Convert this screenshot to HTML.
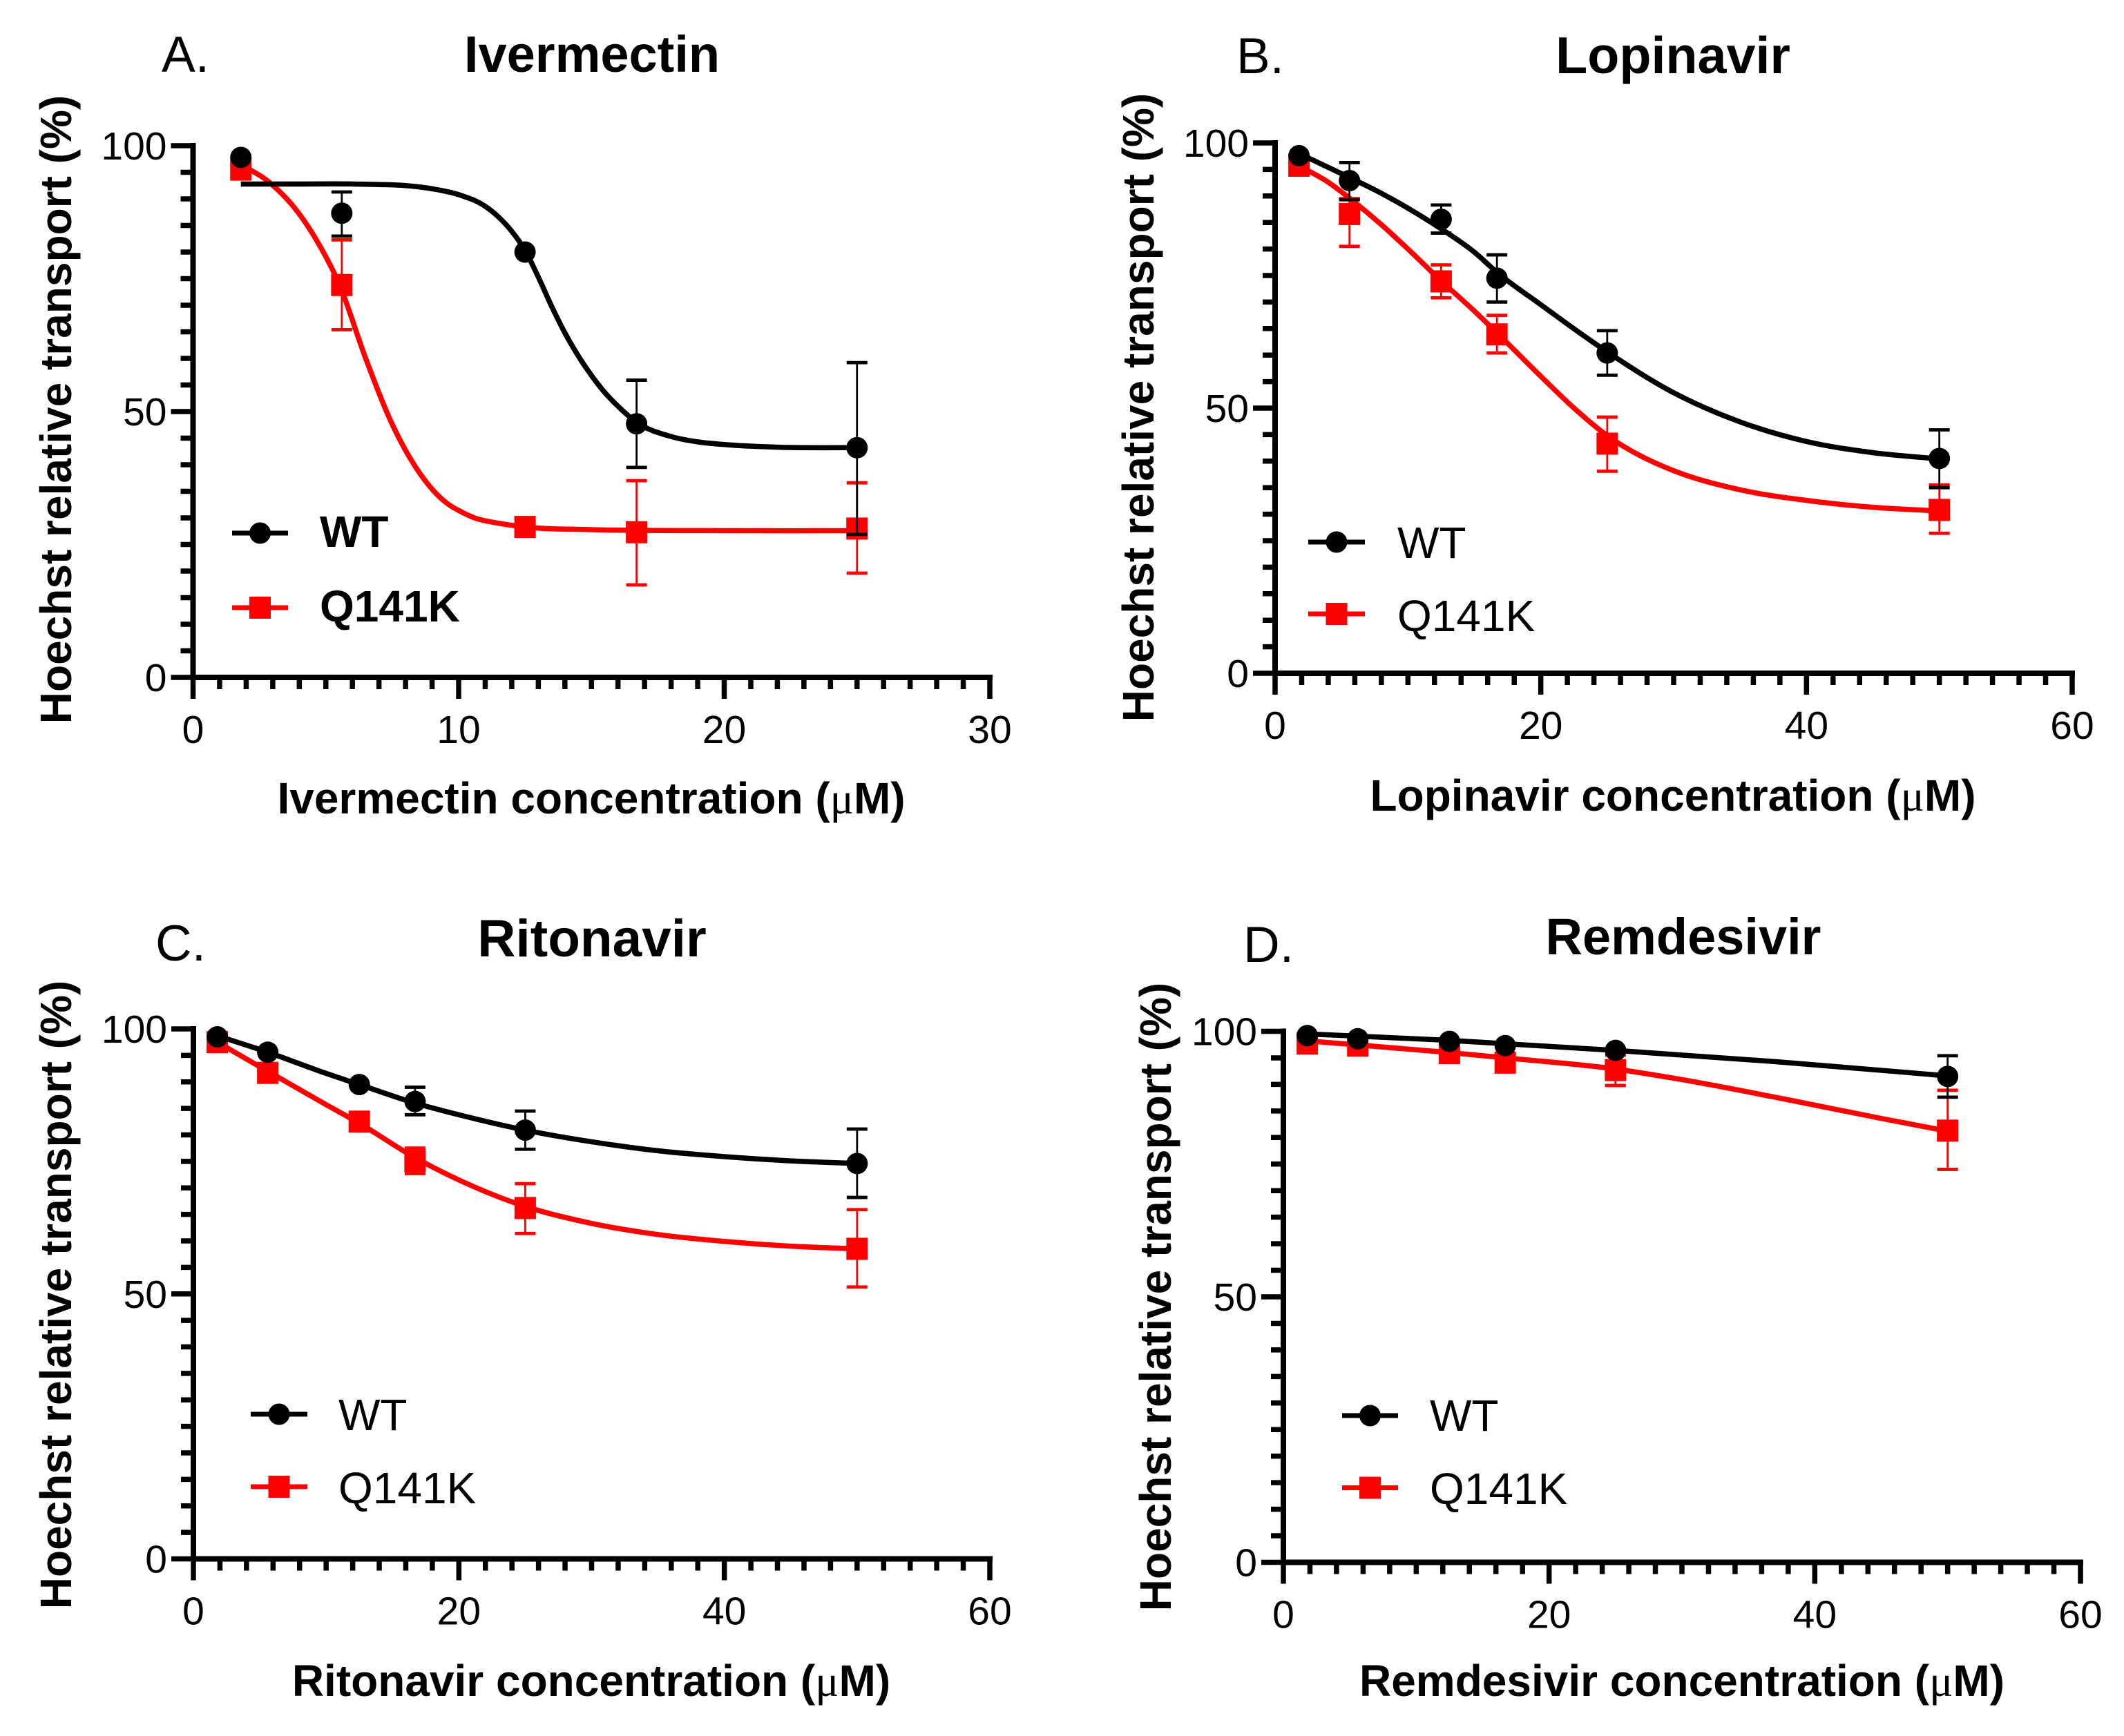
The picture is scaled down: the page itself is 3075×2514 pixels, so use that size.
<!DOCTYPE html>
<html lang="en">
<head>
<meta charset="utf-8">
<title>Hoechst relative transport dose-response panels</title>
<style>
html,body{margin:0;padding:0;background:#fff;}
body{width:3075px;height:2514px;overflow:hidden;}
svg{display:block;}
text{font-family:"Liberation Sans",Arial,sans-serif;fill:#000;}
.panel-title{font-size:74px;font-weight:700;text-anchor:middle;}
.panel-letter{font-size:73px;}
.axis-title{font-size:64px;font-weight:700;text-anchor:middle;}
.mu{font-family:"Liberation Serif",serif;font-weight:400;}
.tick{font-size:57px;}
.legend-text{font-size:64px;}
.legend-bold{font-weight:700;}
</style>
</head>
<body>
<svg id="figure" xmlns="http://www.w3.org/2000/svg" width="3075" height="2514" viewBox="0 0 3075 2514">
  <rect width="3075" height="2514" fill="#fff"/>

  <g id="panel-a">
    <text class="panel-letter" x="234" y="104">A.</text>
    <text class="panel-title" x="857" y="104">Ivermectin</text>
    <text class="axis-title" transform="translate(103,593) rotate(-90)">Hoechst relative transport (%)</text>
    <text class="axis-title" x="856" y="1178">Ivermectin concentration (<tspan class="mu">μ</tspan>M)</text>
    <text class="legend-text legend-bold" x="463" y="792">WT</text>
    <text class="legend-text legend-bold" x="463" y="900">Q141K</text>
  </g>

  <g id="panel-b">
    <text class="panel-letter" x="1790" y="106">B.</text>
    <text class="panel-title" style="font-size:75.5px" x="2422" y="106">Lopinavir</text>
    <text class="axis-title" transform="translate(1670,590) rotate(-90)">Hoechst relative transport (%)</text>
    <text class="axis-title" x="2422" y="1174">Lopinavir concentration (<tspan class="mu">μ</tspan>M)</text>
    <text class="legend-text" x="2023" y="808">WT</text>
    <text class="legend-text" x="2023" y="914">Q141K</text>
  </g>

  <g id="panel-c">
    <text class="panel-letter" x="225" y="1391">C.</text>
    <text class="panel-title" style="font-size:76.5px" x="857" y="1385">Ritonavir</text>
    <text class="axis-title" transform="translate(103,1875) rotate(-90)">Hoechst relative transport (%)</text>
    <text class="axis-title" x="856" y="2456">Ritonavir concentration (<tspan class="mu">μ</tspan>M)</text>
    <text class="legend-text" x="490" y="2071">WT</text>
    <text class="legend-text" x="490" y="2177">Q141K</text>
  </g>

  <g id="panel-d">
    <text class="panel-letter" x="1800" y="1393">D.</text>
    <text class="panel-title" x="2437" y="1382">Remdesivir</text>
    <text class="axis-title" transform="translate(1695,1878) rotate(-90)">Hoechst relative transport (%)</text>
    <text class="axis-title" x="2435" y="2456">Remdesivir concentration (<tspan class="mu">μ</tspan>M)</text>
    <text class="legend-text" x="2070" y="2072">WT</text>
    <text class="legend-text" x="2070" y="2178">Q141K</text>
  </g>
</svg>

<script>
// ---------- Panel A: Ivermectin ----------
const concA = [1.8, 5.6, 12.5, 16.7, 25];
const wtA = [97.8, 87.3, 80, 47.7, 43.2];
const wtHighA = [null, 91.3, null, 55.9, 59.2];
const wtLowA = [null, 83, null, 39.5, 26.9];
const qA = [95.5, 73.8, 28.3, 27.3, 28];
const qHighA = [null, 82.3, null, 37, 36.6];
const qLowA = [null, 65.4, null, 17.4, 19.6];
const wtFitXA = [1.8, 4, 6, 7, 8, 9, 10, 11, 11.5, 12, 12.5, 13, 13.5, 14, 14.5, 15, 15.5, 16, 16.7, 18, 19, 20, 22, 25];
const wtFitYA = [92.8, 92.8, 92.8, 92.7, 92.5, 91.9, 90.8, 88.6, 86.6, 83.9, 80.3, 75.3, 69.8, 64.8, 60.5, 56.8, 53.6, 51, 48, 45.3, 44.3, 43.8, 43.3, 43.2];
const qFitXA = [1.8, 2.9, 3.95, 4.7, 5.5, 6.5, 7.5, 8.55, 9.6, 10, 10.6, 11.5, 12.5, 15, 20, 25];
const qFitYA = [96.5, 93, 87.5, 81.8, 74, 60, 47.6, 38.3, 32.6, 31.4, 30, 29, 28.3, 27.8, 27.6, 27.6];
const xTicksA = [0, 10, 20, 30];

// ---------- Panel B: Lopinavir ----------
const concB = [1.8, 5.6, 12.5, 16.7, 25, 50];
const wtB = [97.6, 92.9, 85.6, 74.5, 60.4, 40.5];
const wtHighB = [null, 96.3, 88.3, 78.9, 64.6, 45.9];
const wtLowB = [null, 89.3, 83, 70, 56.2, 35];
const qB = [95.7, 86.6, 73.9, 63.9, 43.3, 30.8];
const qHighB = [null, 89.5, 77, 67.5, 48.3, 35.5];
const qLowB = [null, 80.5, 70.8, 60.4, 38.1, 26.4];
const wtFitXB = [1.8, 4, 6, 8, 10, 12.5, 15, 16.7, 20, 25, 30, 35, 40, 45, 50];
const wtFitYB = [98, 95.4, 93, 90.5, 87.7, 83.8, 79.4, 75.6, 69.5, 60.6, 52.9, 47.4, 43.7, 41.6, 40.4];
const qFitXB = [1.8, 4, 6, 8, 10, 12.5, 15, 16.7, 20, 22.5, 25, 27.5, 30, 35, 40, 45, 50];
const qFitYB = [95.7, 92.6, 88.8, 84.6, 80, 74, 68.3, 64.2, 56, 50, 44.8, 41, 38.2, 34.6, 32.6, 31.3, 30.6];
const xTicksB = [0, 20, 40, 60];

// ---------- Panel C: Ritonavir ----------
const concC = [1.8, 5.6, 12.5, 16.7, 25, 50];
const wtC = [98.5, 95.6, 89.5, 86.3, 80.9, 74.6];
const wtHighC = [null, null, null, 89, 84.5, 81.1];
const wtLowC = [null, null, null, 83.8, 77.3, 68.2];
const qC = [97.5, 91.7, 82.5, 75.1, 66.2, 58.5];
const qHighC = [null, null, null, 77.5, 70.8, 65.9];
const qLowC = [null, null, null, 72.7, 61.4, 51.3];
const wtFitXC = [1.8, 5.6, 10, 12.5, 16.7, 20, 25, 30, 35, 40, 45, 50];
const wtFitYC = [98.7, 95.6, 91.6, 89.5, 86, 83.8, 80.9, 78.7, 77, 75.9, 75.1, 74.6];
const qFitXC = [1.8, 5.6, 10, 12.5, 16.7, 20, 25, 30, 35, 40, 45, 50];
const qFitYC = [97.5, 92, 85.7, 82.2, 75.7, 71.5, 66.5, 63.3, 61.2, 59.9, 59, 58.5];
const xTicksC = [0, 20, 40, 60];

// ---------- Panel D: Remdesivir ----------
const concD = [1.8, 5.6, 12.5, 16.7, 25, 50];
const wtD = [99.2, 98.6, 98.1, 97.3, 96.4, 91.5];
const wtHighD = [null, null, null, null, null, 95.4];
const wtLowD = [null, null, null, null, null, 87.6];
const qD = [97.7, 97.3, 95.9, 94.1, 92.7, 81.3];
const qHighD = [null, null, null, null, 95.5, 88.9];
const qLowD = [null, null, null, null, 89.8, 74];
const wtFitXD = [1.8, 12.5, 25, 37, 50];
const wtFitYD = [99.5, 98.3, 96.4, 94.3, 91.6];
const qFitXD = [1.8, 12.5, 16.7, 25, 30, 37, 45, 50];
const qFitYD = [98.2, 96, 95, 92.9, 90.9, 87.6, 83.6, 81.2];
const xTicksD = [0, 20, 40, 60];

const yTicks = [0, 50, 100];
const yMax = 100;
const yMinorStep = 5;

const SVG_NS = 'http://www.w3.org/2000/svg';
const BLACK = '#000';
const RED = '#ff0000';

function make(parent, tag, attrs, name) {
  const el = document.createElementNS(SVG_NS, tag);
  for (const k in attrs) el.setAttribute(k, attrs[k]);
  
  
  parent.appendChild(el);
  return el;
}

function smoothPath(px, py) {
  const n = px.length;
  const d = [], w = [], m = [];
  for (let i = 0; i < n - 1; i++) {
    w.push(px[i + 1] - px[i]);
    d.push((py[i + 1] - py[i]) / w[i]);
  }
  m.push(d[0]);
  for (let i = 1; i < n - 1; i++) {
    m.push((w[i] * d[i - 1] + w[i - 1] * d[i]) / (w[i - 1] + w[i]));
  }
  m.push(d[n - 2]);
  let s = 'M' + px[0].toFixed(2) + ' ' + py[0].toFixed(2);
  for (let i = 0; i < n - 1; i++) {
    const h = w[i] / 3;
    s += 'C' + (px[i] + h).toFixed(2) + ' ' + (py[i] + m[i] * h).toFixed(2) + ' ' +
      (px[i + 1] - h).toFixed(2) + ' ' + (py[i + 1] - m[i + 1] * h).toFixed(2) + ' ' +
      px[i + 1].toFixed(2) + ' ' + py[i + 1].toFixed(2);
  }
  return s;
}

function drawMarker(g, kind, cx, cy, color, name) {
  if (kind === 'circle') {
    make(g, 'circle', { cx: cx, cy: cy, r: 15.5, fill: color }, name);
  } else {
    make(g, 'rect', { x: cx - 15.5, y: cy - 16, width: 31, height: 32, fill: color }, name);
  }
}

function drawSeries(g, prefix, kind, color, sx, sy, conc, vals, hi, lo, fitX, fitY) {
  for (let i = 0; i < conc.length; i++) {
    if (hi[i] === null) continue;
    const x = sx(conc[i]);
    make(g, 'line', { x1: x, x2: x, y1: sy(hi[i]), y2: sy(lo[i]), stroke: color, 'stroke-width': 2.8 }, prefix + '-error-bar');
    make(g, 'line', { x1: x - 15, x2: x + 15, y1: sy(hi[i]), y2: sy(hi[i]), stroke: color, 'stroke-width': 4.8 }, prefix + '-error-cap-upper');
    make(g, 'line', { x1: x - 15, x2: x + 15, y1: sy(lo[i]), y2: sy(lo[i]), stroke: color, 'stroke-width': 4.8 }, prefix + '-error-cap-lower');
  }
  make(g, 'path', { d: smoothPath(fitX.map(sx), fitY.map(sy)), fill: 'none', stroke: color, 'stroke-width': 7.5 }, prefix + '-fit-curve');
  for (let i = 0; i < conc.length; i++) {
    drawMarker(g, kind, sx(conc[i]), sy(vals[i]), color, prefix + '-point');
  }
}

function drawPanel(id, L, xMax, xMinorStep, xTicks, wt, q, leg) {
  const g = document.getElementById(id);
  const sx = v => L.x0 + (v / xMax) * (L.x1 - L.x0);
  const sy = v => L.y0 - (v / yMax) * (L.y0 - L.y1);
  const axisW = 8;

  const axes = make(g, 'g', {}, id + '-axes');
  for (let v = 0; v <= yMax + 1e-6; v += yMinorStep) {
    const major = yTicks.indexOf(v) >= 0;
    make(axes, 'line', { x1: L.x0 - (major ? 32 : 18), x2: L.x0, y1: sy(v), y2: sy(v), stroke: BLACK, 'stroke-width': 7.5 }, major ? 'y-major-tick' : 'y-minor-tick');
  }
  for (let v = 0; v <= xMax + 1e-6; v += xMinorStep) {
    const major = xTicks.indexOf(v) >= 0;
    make(axes, 'line', { x1: sx(v), x2: sx(v), y1: L.y0, y2: L.y0 + (major ? 31 : 17), stroke: BLACK, 'stroke-width': 7.5 }, major ? 'x-major-tick' : 'x-minor-tick');
  }
  make(axes, 'line', { x1: L.x0, x2: L.x0, y1: sy(yMax) - 4, y2: L.y0 + 4, stroke: BLACK, 'stroke-width': axisW }, 'y-axis-line');
  make(axes, 'line', { x1: L.x0 - 4, x2: L.x1 + 4, y1: L.y0, y2: L.y0, stroke: BLACK, 'stroke-width': axisW }, 'x-axis-line');

  yTicks.forEach(v => {
    const t = make(g, 'text', { class: 'tick', x: L.x0 - 38, y: sy(v) + 20, 'text-anchor': 'end' }, 'y-tick-label');
    t.textContent = String(v);
  });
  xTicks.forEach(v => {
    const t = make(g, 'text', { class: 'tick', x: sx(v), y: L.y0 + 95, 'text-anchor': 'middle' }, 'x-tick-label');
    t.textContent = String(v);
  });

  drawSeries(g, 'q141k', 'square', RED, sx, sy, q.conc, q.vals, q.hi, q.lo, q.fitX, q.fitY);
  drawSeries(g, 'wt', 'circle', BLACK, sx, sy, wt.conc, wt.vals, wt.hi, wt.lo, wt.fitX, wt.fitY);

  make(g, 'line', { x1: leg.x0, x2: leg.x1, y1: leg.yWt, y2: leg.yWt, stroke: BLACK, 'stroke-width': 7 }, 'legend-wt-line');
  drawMarker(g, 'circle', (leg.x0 + leg.x1) / 2, leg.yWt, BLACK, 'legend-wt-marker');
  make(g, 'line', { x1: leg.x0, x2: leg.x1, y1: leg.yQ, y2: leg.yQ, stroke: RED, 'stroke-width': 7 }, 'legend-q141k-line');
  drawMarker(g, 'square', (leg.x0 + leg.x1) / 2, leg.yQ, RED, 'legend-q141k-marker');
}

drawPanel('panel-a', { x0: 279.5, x1: 1433, y0: 981, y1: 211 }, 30, 1, xTicksA,
  { conc: concA, vals: wtA, hi: wtHighA, lo: wtLowA, fitX: wtFitXA, fitY: wtFitYA },
  { conc: concA, vals: qA, hi: qHighA, lo: qLowA, fitX: qFitXA, fitY: qFitYA },
  { x0: 336, x1: 417, yWt: 772, yQ: 880 });

drawPanel('panel-b', { x0: 1846, x1: 3000, y0: 975, y1: 207 }, 60, 2, xTicksB,
  { conc: concB, vals: wtB, hi: wtHighB, lo: wtLowB, fitX: wtFitXB, fitY: wtFitYB },
  { conc: concB, vals: qB, hi: qHighB, lo: qLowB, fitX: qFitXB, fitY: qFitYB },
  { x0: 1894, x1: 1976, yWt: 785, yQ: 889 });

drawPanel('panel-c', { x0: 280, x1: 1433, y0: 2257.5, y1: 1490 }, 60, 2, xTicksC,
  { conc: concC, vals: wtC, hi: wtHighC, lo: wtLowC, fitX: wtFitXC, fitY: wtFitYC },
  { conc: concC, vals: qC, hi: qHighC, lo: qLowC, fitX: qFitXC, fitY: qFitYC },
  { x0: 363, x1: 445, yWt: 2048, yQ: 2153 });

drawPanel('panel-d', { x0: 1858, x1: 3012, y0: 2262.5, y1: 1493.5 }, 60, 2, xTicksD,
  { conc: concD, vals: wtD, hi: wtHighD, lo: wtLowD, fitX: wtFitXD, fitY: wtFitYD },
  { conc: concD, vals: qD, hi: qHighD, lo: qLowD, fitX: qFitXD, fitY: qFitYD },
  { x0: 1943, x1: 2024, yWt: 2050, yQ: 2154.5 });
</script>
</body>
</html>
